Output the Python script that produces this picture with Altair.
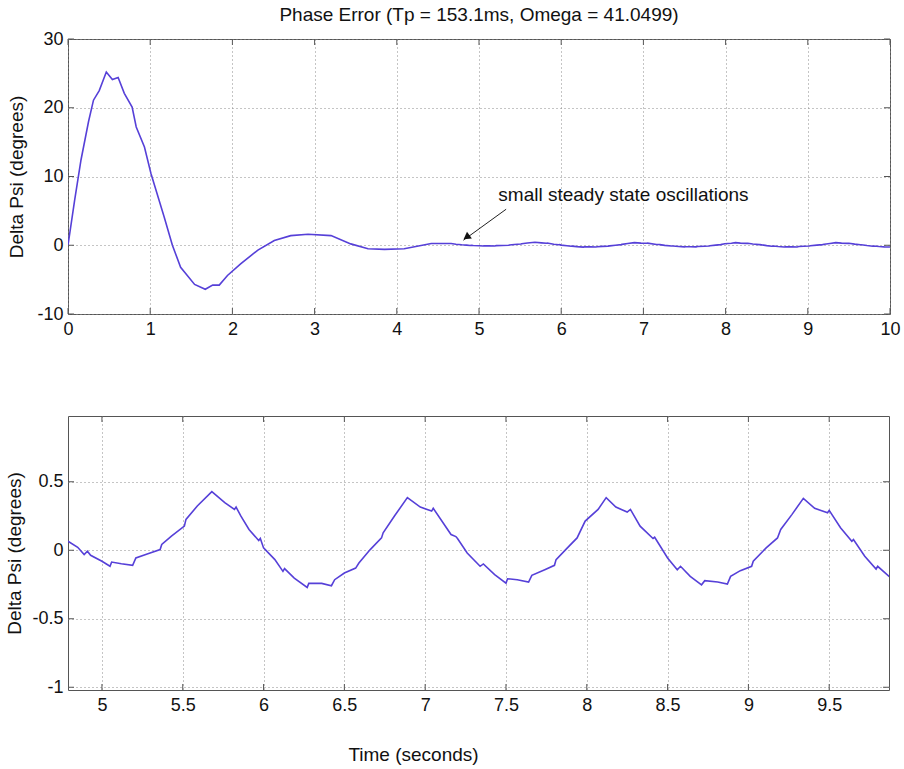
import altair as alt
import pandas as pd

# ---- data ----
# transient part (top panel, 0 .. 4.72 s)
t_transient = [0.0, 0.08, 0.158, 0.25, 0.31, 0.38, 0.466, 0.54, 0.61, 0.685, 0.78, 0.83,
               0.93, 1.01, 1.17, 1.27, 1.37, 1.54, 1.67, 1.76, 1.84, 1.94, 2.10, 2.31,
               2.51, 2.71, 2.92, 3.2, 3.44, 3.65, 3.85, 4.09, 4.42, 4.66, 4.72]
psi_transient = [0.0, 6.5, 12.4, 18.0, 21.1, 22.5, 25.2, 24.1, 24.4, 22.1, 20.1, 17.2,
                 14.3, 10.4, 4.1, 0.0, -3.2, -5.7, -6.4, -5.8, -5.8, -4.4, -2.7, -0.7,
                 0.7, 1.4, 1.6, 1.4, 0.2, -0.5, -0.6, -0.5, 0.25, 0.25, 0.15]

# steady-state part (both panels, 4.79 .. 10 s)
t_steady = [4.79, 4.85, 4.89, 4.91, 4.93, 5.0, 5.05, 5.06, 5.12, 5.19, 5.21, 5.28, 5.36,
            5.37, 5.43, 5.51, 5.52, 5.59, 5.68, 5.76, 5.82, 5.83, 5.86, 5.91, 5.97, 5.98,
            6.0, 6.07, 6.12, 6.13, 6.19, 6.27, 6.28, 6.36, 6.42, 6.44, 6.50, 6.57, 6.59,
            6.66, 6.73, 6.74, 6.81, 6.89, 6.97, 7.04, 7.05, 7.16, 7.19, 7.20, 7.26, 7.34,
            7.36, 7.43, 7.50, 7.51, 7.57, 7.64, 7.66, 7.74, 7.80, 7.81, 7.88, 7.94, 7.99,
            8.07, 8.12, 8.18, 8.25, 8.27, 8.33, 8.41, 8.42, 8.50, 8.56, 8.58, 8.64, 8.71,
            8.73, 8.81, 8.87, 8.89, 8.95, 9.02, 9.03, 9.11, 9.18, 9.20, 9.27, 9.34, 9.41,
            9.49, 9.50, 9.57, 9.64, 9.65, 9.72, 9.79, 9.80, 9.87, 9.93, 10.0]
psi_steady = [0.066, 0.022, -0.032, -0.007, -0.037, -0.08, -0.117, -0.086, -0.098, -0.11,
              -0.056, -0.027, 0.005, 0.042, 0.103, 0.176, 0.225, 0.323, 0.428, 0.347,
              0.298, 0.315, 0.249, 0.152, 0.071, 0.086, 0.017, -0.068, -0.154, -0.134,
              -0.203, -0.271, -0.242, -0.242, -0.259, -0.215, -0.166, -0.13, -0.093,
              0.005, 0.09, 0.127, 0.25, 0.384, 0.315, 0.286, 0.306, 0.115, 0.10, 0.086,
              -0.02, -0.117, -0.10, -0.178, -0.24, -0.208, -0.215, -0.232, -0.183,
              -0.142, -0.11, -0.068, 0.017, 0.09, 0.213, 0.298, 0.384, 0.315, 0.279,
              0.298, 0.176, 0.086, 0.095, -0.056, -0.142, -0.117, -0.191, -0.252,
              -0.222, -0.232, -0.247, -0.191, -0.149, -0.117, -0.08, 0.017, 0.09,
              0.152, 0.262, 0.379, 0.306, 0.274, 0.291, 0.164, 0.066, 0.078, -0.044,
              -0.137, -0.117, -0.191, -0.23, -0.25]

top_xticks = [0, 1, 2, 3, 4, 5, 6, 7, 8, 9, 10]
top_yticks = [-10, 0, 10, 20, 30]
bot_xticks = [5, 5.5, 6, 6.5, 7, 7.5, 8, 8.5, 9, 9.5]
bot_yticks = [-1, -0.5, 0, 0.5]

top_xdomain = [0, 10]
top_ydomain = [-10, 30]
bot_xdomain = [4.79, 9.87]
bot_ydomain = [-1.02, 0.98]

title_text = "Phase Error (Tp = 153.1ms, Omega = 41.0499)"
ylabel = "Delta Psi (degrees)"
xlabel = "Time (seconds)"
note_text = "small steady state oscillations"
note_pos = {"x": 5.235, "y": 7.3}
arrow = {"x": 5.33, "y": 5.24, "x2": 4.81, "y2": 0.73}
arrow_head_pos = {"x": 4.86, "y": 1.28}

# ---- styling ----
FONT = "Liberation Sans"
LINE = "#5640d8"
FRAME = "#555555"
GRID = "#8a8a8a"
W, H = 822, 275
W2, H2 = 821, 274
TICK = 6
LABEL_FS = 18
TITLE_FS = 19

df_all = pd.DataFrame({"t": t_transient + t_steady, "psi": psi_transient + psi_steady})
df_ss = pd.DataFrame({"t": t_steady, "psi": psi_steady})


def panel(df, xdom, ydom, xticks, yticks, w, h, show_xtitle, ytitle_pad):
    xscale = alt.Scale(domain=xdom, nice=False, zero=False)
    yscale = alt.Scale(domain=ydom, nice=False, zero=False)
    xaxis = alt.Axis(values=xticks, grid=True, gridColor=GRID, gridDash=[1, 3],
                     gridOpacity=1, gridWidth=1, domain=False, ticks=False,
                     labelExpr="'' + datum.value", labelFont=FONT, labelFontSize=LABEL_FS,
                     labelColor="#111", labelPadding=6, labelFlush=False,
                     title=xlabel if show_xtitle else None,
                     titleFont=FONT, titleFontSize=TITLE_FS, titleFontWeight="normal",
                     titleColor="#111", titlePadding=31,
                     **({"titleX": 345} if show_xtitle else {}))
    yaxis = alt.Axis(values=yticks, grid=True, gridColor=GRID, gridDash=[1, 3],
                     gridOpacity=1, gridWidth=1, domain=False, ticks=False,
                     labelExpr="'' + datum.value", labelFont=FONT, labelFontSize=LABEL_FS,
                     labelColor="#111", labelPadding=5, labelFlush=False,
                     title=ylabel, titleFont=FONT, titleFontSize=TITLE_FS,
                     titleFontWeight="normal", titleColor="#111",
                     titlePadding=ytitle_pad)
    base = alt.Chart(df)
    line = base.mark_line(color=LINE, strokeWidth=1.6, clip=True).encode(
        x=alt.X("t:Q", scale=xscale, axis=xaxis),
        y=alt.Y("psi:Q", scale=yscale, axis=yaxis),
    )
    xt = pd.DataFrame({"v": xticks})
    yt = pd.DataFrame({"v": yticks})
    tick_style = dict(color=FRAME, strokeWidth=1)
    xtop = alt.Chart(xt).mark_rule(**tick_style).encode(
        x=alt.X("v:Q", scale=xscale), y=alt.value(0), y2=alt.value(TICK))
    xbot = alt.Chart(xt).mark_rule(**tick_style).encode(
        x=alt.X("v:Q", scale=xscale), y=alt.value(h), y2=alt.value(h - TICK))
    yleft = alt.Chart(yt).mark_rule(**tick_style).encode(
        y=alt.Y("v:Q", scale=yscale), x=alt.value(0), x2=alt.value(TICK))
    yright = alt.Chart(yt).mark_rule(**tick_style).encode(
        y=alt.Y("v:Q", scale=yscale), x=alt.value(w), x2=alt.value(w - TICK))
    return [line, xtop, xbot, yleft, yright], xscale, yscale


top_layers, txs, tys = panel(df_all, top_xdomain, top_ydomain, top_xticks, top_yticks,
                             W, H, False, 10)

note_df = pd.DataFrame([{"x": note_pos["x"], "y": note_pos["y"], "label": note_text}])
note = alt.Chart(note_df).mark_text(align="left", baseline="middle", font=FONT,
                                    fontSize=TITLE_FS, color="#111").encode(
    x=alt.X("x:Q", scale=txs), y=alt.Y("y:Q", scale=tys), text="label:N")
arrow_df = pd.DataFrame([arrow])
arrow_line = alt.Chart(arrow_df).mark_rule(color="#222", strokeWidth=1).encode(
    x=alt.X("x:Q", scale=txs), y=alt.Y("y:Q", scale=tys), x2="x2:Q", y2="y2:Q")
head_df = pd.DataFrame([arrow_head_pos])
arrow_head = alt.Chart(head_df).mark_point(shape="triangle", filled=True, color="#111",
                                           size=70, angle=234, opacity=1).encode(
    x=alt.X("x:Q", scale=txs), y=alt.Y("y:Q", scale=tys))

top = alt.layer(*top_layers, arrow_line, arrow_head, note).properties(
    width=W, height=H,
    title=alt.TitleParams(title_text, font=FONT, fontSize=TITLE_FS, fontWeight="normal",
                          color="#111", anchor="middle", offset=5),
)

bot_layers, _, _ = panel(df_ss, bot_xdomain, bot_ydomain, bot_xticks, bot_yticks,
                         W2, H2, True, 7)
bottom = alt.layer(*bot_layers).properties(width=W2, height=H2)

chart = alt.vconcat(top, bottom, spacing=76).properties(
    background="white",
    padding={"left": 5, "top": 5, "right": 2, "bottom": 2},
).configure_view(stroke=FRAME, strokeWidth=1).configure_concat(spacing=76)

chart.save("out.html", embed_options={"renderer": "svg", "actions": False})
